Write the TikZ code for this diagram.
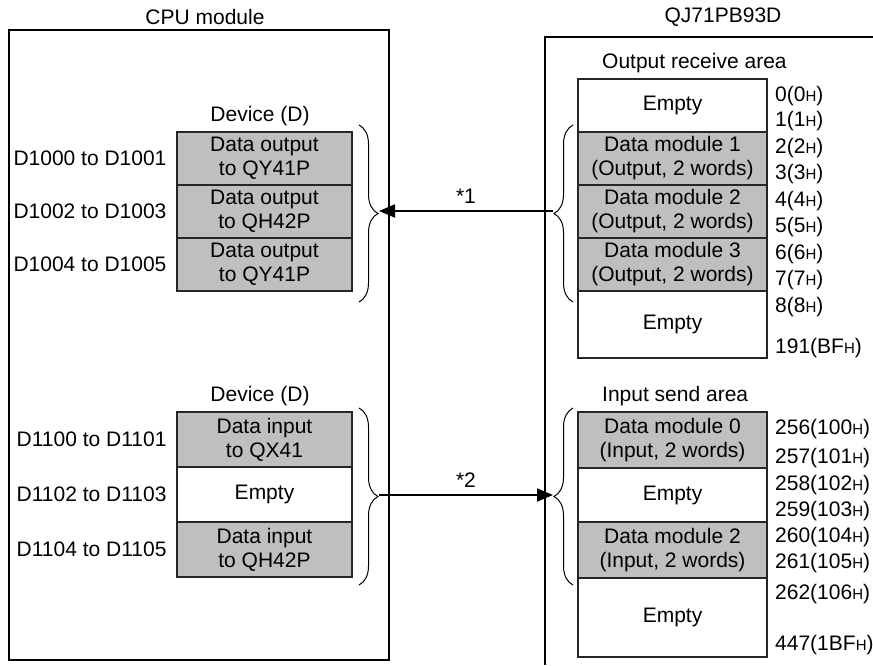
\documentclass[tikz,border=0pt]{standalone}
\usepackage{fontspec}
\setmainfont{Liberation Sans}
\usetikzlibrary{arrows.meta,positioning,decorations.pathreplacing}
\newcommand{\hexh}{{\fontsize{15}{15}\selectfont H}}

\begin{document}
\begin{tikzpicture}[x=1pt,y=-1pt,
font=\fontsize{21}{24}\selectfont,
frame/.style={draw=black,line width=1.3pt},
dev/.style={draw=black!85,line width=1.5pt,minimum width=175pt,minimum height=53pt,inner sep=0pt,outer sep=0pt,align=center},
area/.style={dev,minimum width=189pt},
used/.style={fill=black!25},
num/.style={anchor=west,inner sep=0pt},
brc/.style={decorate,decoration={brace,amplitude=19pt},line width=1pt},
link/.style={line width=1.8pt,-{Triangle[length=16pt,width=13pt]}}]
\useasboundingbox (0,0) rectangle (873,665);

\node (cpu title) at (205,17) {CPU module};
\node (qj title) at (723,17) {QJ71PB93D};
\draw[frame] (9,30) rectangle (389,660);
\draw[frame] (873,37) -- (545,37) -- (545,665);

\node (dev out) at (260,116) {Device (D)};
\node[dev,used,anchor=north] (out1) at (264.5,132) {Data output\\to QY41P};
\node[dev,used,below=0pt of out1] (out2) {Data output\\to QH42P};
\node[dev,used,below=0pt of out2] (out3) {Data output\\to QY41P};
\node[left=7pt of out1] (d1000) {D1000 to D1001};
\node[left=7pt of out2] (d1002) {D1002 to D1003};
\node[left=7pt of out3] (d1004) {D1004 to D1005};

\node (dev in) at (260,396) {Device (D)};
\node[dev,used,anchor=north,minimum height=55pt] (in1) at (264.5,412) {Data input\\to QX41};
\node[dev,below=0pt of in1,minimum height=55pt] (in2) {Empty};
\node[dev,used,below=0pt of in2,minimum height=55pt] (in3) {Data input\\to QH42P};
\node[left=7pt of in1] (d1100) {D1100 to D1101};
\node[left=7pt of in2] (d1102) {D1102 to D1103};
\node[left=7pt of in3] (d1104) {D1104 to D1105};

\node[anchor=west,inner sep=0pt] (recv title) at (602,63) {Output receive area};
\node[area,anchor=north] (rx0) at (672.5,79) {Empty};
\node[area,used,below=0pt of rx0] (rx1) {Data module 1\\(Output, 2 words)};
\node[area,used,below=0pt of rx1] (rx2) {Data module 2\\(Output, 2 words)};
\node[area,used,below=0pt of rx2] (rx3) {Data module 3\\(Output, 2 words)};
\node[area,below=0pt of rx3,minimum height=67pt] (rx4) {Empty};

\node[anchor=west,inner sep=0pt] (send title) at (602,396) {Input send area};
\node[area,used,anchor=north,minimum height=56pt] (sx0) at (672.5,412) {Data module 0\\(Input, 2 words)};
\node[area,below=0pt of sx0,minimum height=54pt] (sx1) {Empty};
\node[area,used,below=0pt of sx1,minimum height=56pt] (sx2) {Data module 2\\(Input, 2 words)};
\node[area,below=0pt of sx2,minimum height=79pt] (sx3) {Empty};

\node[num] (a0) at (775,96) {0(0\hexh)};
\node[num] (a1) at (775,121) {1(1\hexh)};
\node[num] (a2) at (775,148) {2(2\hexh)};
\node[num] (a3) at (775,174) {3(3\hexh)};
\node[num] (a4) at (775,201) {4(4\hexh)};
\node[num] (a5) at (775,227) {5(5\hexh)};
\node[num] (a6) at (775,254) {6(6\hexh)};
\node[num] (a7) at (775,280) {7(7\hexh)};
\node[num] (a8) at (775,307) {8(8\hexh)};
\node[num] (a191) at (775,348) {191(BF\hexh)};
\node[num] (a256) at (775,429) {256(100\hexh)};
\node[num] (a257) at (775,458) {257(101\hexh)};
\node[num] (a258) at (775,485) {258(102\hexh)};
\node[num] (a259) at (775,511) {259(103\hexh)};
\node[num] (a260) at (775,537) {260(104\hexh)};
\node[num] (a261) at (775,563) {261(105\hexh)};
\node[num] (a262) at (775,594) {262(106\hexh)};
\node[num] (a447) at (775,645) {447(1BF\hexh)};

\coordinate (out brace top) at (359,125);
\coordinate (out brace bot) at (359,302);
\coordinate (out tip) at (379,211);
\coordinate (recv brace top) at (573,125);
\coordinate (recv brace bot) at (573,302);
\coordinate (recv tip) at (553,211);
\coordinate (in brace top) at (359,408);
\coordinate (in brace bot) at (359,585);
\coordinate (in tip) at (379,495);
\coordinate (send brace top) at (573,408);
\coordinate (send brace bot) at (573,585);
\coordinate (send tip) at (553,495);

\draw[brc] (out brace top) -- (out brace bot);
\draw[brc] (recv brace bot) -- (recv brace top);
\draw[brc] (in brace top) -- (in brace bot);
\draw[brc] (send brace bot) -- (send brace top);

\draw[link] (recv tip) -- node[above=3pt] (star1) {*1} (out tip);
\draw[link] (in tip) -- node[above=3pt] (star2) {*2} (send tip);
\end{tikzpicture}
\end{document}
